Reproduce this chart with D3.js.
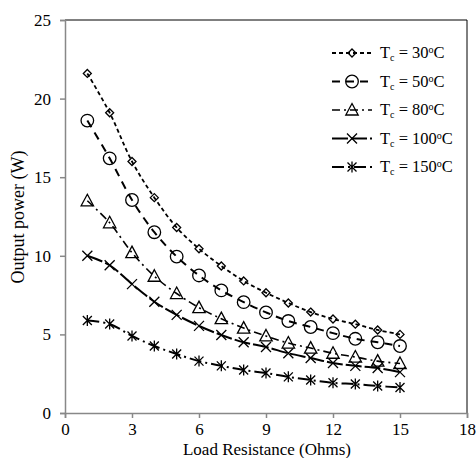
<html>
  <head>
    <style>
      body { margin: 0; background: #fff; }
      svg text { font-family: "Liberation Serif", "Times New Roman", serif; fill: #000; }
    </style>
    <script src="https://d3js.org/d3.v7.min.js"></script>
  </head>
  <body>
    <svg class="chart"></svg>
    <script>
var resistance = [1, 2, 3, 4, 5, 6, 7, 8, 9, 10, 11, 12, 13, 14, 15];
var t30  = [21.6, 19.1, 16.0, 13.7, 11.8, 10.45, 9.35, 8.4, 7.65, 7.0, 6.42, 5.98, 5.65, 5.28, 5.0];
var t50  = [18.6, 16.2, 13.55, 11.5, 9.95, 8.75, 7.8, 7.05, 6.4, 5.85, 5.47, 5.08, 4.72, 4.5, 4.26];
var t80  = [13.5, 12.1, 10.2, 8.7, 7.6, 6.7, 6.0, 5.4, 4.9, 4.45, 4.13, 3.8, 3.56, 3.3, 3.15];
var t100 = [10.0, 9.4, 8.2, 7.08, 6.24, 5.54, 4.96, 4.5, 4.2, 3.8, 3.5, 3.18, 3.0, 2.86, 2.6];
var t150 = [5.88, 5.66, 4.9, 4.26, 3.75, 3.3, 3.0, 2.73, 2.54, 2.3, 2.1, 1.92, 1.84, 1.72, 1.62];
var seriesNames = ["30", "50", "80", "100", "150"];
var xTicks = [0, 3, 6, 9, 12, 15, 18];
var yTicks = [0, 5, 10, 15, 20, 25];

var width = 476, height = 458;
var pLeft = 65, pRight = 467, pTop = 20, pBottom = 413;

var svg = d3.select(".chart").attr("width", width).attr("height", height);

var x = d3.scaleLinear().domain([0, 18]).range([pLeft, pRight]);
var y = d3.scaleLinear().domain([0, 25]).range([pBottom, pTop]);

// frame top/right
svg.append("line").attr("x1", pLeft).attr("x2", pRight).attr("y1", pTop).attr("y2", pTop)
  .attr("stroke", "#000").attr("stroke-width", 1);
svg.append("line").attr("x1", pRight).attr("x2", pRight).attr("y1", pTop).attr("y2", pBottom)
  .attr("stroke", "#000").attr("stroke-width", 1);

var xAxis = svg.append("g").attr("transform", "translate(0," + pBottom + ")")
  .call(d3.axisBottom(x).tickValues(xTicks).tickSize(5).tickPadding(5));
var yAxis = svg.append("g").attr("transform", "translate(" + pLeft + ",0)")
  .call(d3.axisLeft(y).tickValues(yTicks).tickSize(5).tickPadding(9));
[xAxis, yAxis].forEach(function(a) {
  a.select(".domain").attr("stroke", "#888").attr("stroke-width", 1.5);
  a.selectAll(".tick line").attr("stroke", "#888").attr("stroke-width", 1.5);
  a.selectAll("text").style("font-family", "Liberation Serif").style("font-size", "17px").attr("fill", "#000");
});

svg.append("text").attr("x", 267).attr("y", 455)
  .attr("text-anchor", "middle").style("font-size", "17px").text("Load Resistance (Ohms)");
svg.append("text").attr("transform", "translate(24,217) rotate(-90)")
  .attr("text-anchor", "middle").style("font-size", "18px").text("Output power (W)");

var series = [
  { name: "30",  values: t30,  dash: "4,3",       width: 1.8, marker: "diamond" },
  { name: "50",  values: t50,  dash: "8,6",       width: 2,   marker: "circle" },
  { name: "80",  values: t80,  dash: "8,4,2,4",   width: 1.6, marker: "triangle" },
  { name: "100", values: t100, dash: "16,3",      width: 2,   marker: "x" },
  { name: "150", values: t150, dash: "12,4,2,4",  width: 2,   marker: "asterisk" }
];

function markerPath(type) {
  if (type === "diamond") return "M0,-4L4,0L0,4L-4,0Z";
  if (type === "circle") return "M6.3,0A6.3,6.3 0 1,1 -6.3,0A6.3,6.3 0 1,1 6.3,0Z";
  if (type === "triangle") return "M0,-6.5L6.2,5L-6.2,5Z";
  if (type === "x") return "M-5,-5L5,5M-5,5L5,-5";
  if (type === "asterisk") return "M-4.5,-4.5L4.5,4.5M-4.5,4.5L4.5,-4.5M0,-5.5L0,5.5";
}

var line = d3.line().x(function(d) { return x(d[0]); }).y(function(d) { return y(d[1]); })
  .curve(d3.curveCatmullRom);

series.forEach(function(s) {
  var pts = resistance.map(function(r, i) { return [r, s.values[i]]; });
  svg.append("path").datum(pts).attr("d", line).attr("fill", "none")
    .attr("stroke", "#000").attr("stroke-width", s.width).attr("stroke-dasharray", s.dash);
  svg.selectAll(null).data(pts).enter().append("path")
    .attr("transform", function(d) { return "translate(" + x(d[0]) + "," + y(d[1]) + ")"; })
    .attr("d", markerPath(s.marker)).attr("fill", "none").attr("stroke", "#000").attr("stroke-width", 1.3);
});

// legend
var lg = svg.append("g");
series.forEach(function(s, i) {
  var ly = 53 + i * 28.5;
  lg.append("line").attr("x1", 332).attr("x2", 372).attr("y1", ly).attr("y2", ly)
    .attr("stroke", "#000").attr("stroke-width", s.width).attr("stroke-dasharray", s.dash);
  lg.append("path").attr("transform", "translate(352," + ly + ")").attr("d", markerPath(s.marker))
    .attr("fill", "none").attr("stroke", "#000").attr("stroke-width", 1.3);
  var t = lg.append("text").attr("x", 380).attr("y", ly + 5).style("font-size", "16.5px");
  t.append("tspan").text("T");
  t.append("tspan").attr("dy", 3).style("font-size", "10px").text("c");
  t.append("tspan").attr("dy", -3).text(" = " + seriesNames[i]);
  t.append("tspan").attr("dy", -5).style("font-size", "10px").text("o");
  t.append("tspan").attr("dy", 5).text("C");
});
    </script>
  </body>
</html>
